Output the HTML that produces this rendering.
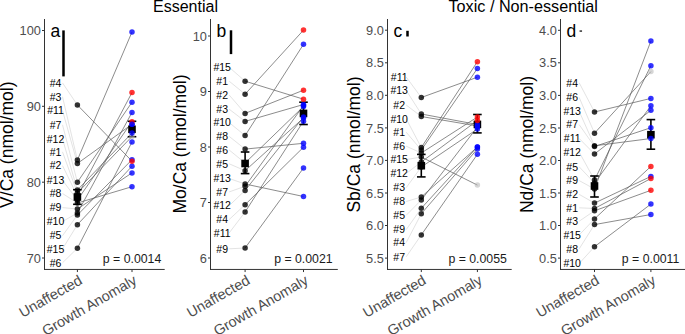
<!DOCTYPE html><html><head><meta charset="utf-8"><style>html,body{margin:0;padding:0;background:#fff;overflow:hidden}svg{display:block}text{font-family:"Liberation Sans",sans-serif}</style></head><body>
<svg width="685" height="334" viewBox="0 0 685 334">
<rect width="685" height="334" fill="#fff"/>
<text x="185.5" y="12" font-size="16" text-anchor="middle" fill="#000">Essential</text>
<text x="523.2" y="12" font-size="16.2" text-anchor="middle" fill="#000">Toxic / Non-essential</text>
<text transform="translate(13.0,144.7) rotate(-90)" font-size="17.5" text-anchor="middle" fill="#000">V/Ca (nmol/mol)</text>
<text x="40.9" y="35.1" font-size="12.8" text-anchor="end" fill="#4d4d4d">100</text>
<line x1="42.0" y1="30.5" x2="44.5" y2="30.5" stroke="#333" stroke-width="1"/>
<text x="40.9" y="110.9" font-size="12.8" text-anchor="end" fill="#4d4d4d">90</text>
<line x1="42.0" y1="106.3" x2="44.5" y2="106.3" stroke="#333" stroke-width="1"/>
<text x="40.9" y="186.8" font-size="12.8" text-anchor="end" fill="#4d4d4d">80</text>
<line x1="42.0" y1="182.2" x2="44.5" y2="182.2" stroke="#333" stroke-width="1"/>
<text x="40.9" y="262.6" font-size="12.8" text-anchor="end" fill="#4d4d4d">70</text>
<line x1="42.0" y1="258.0" x2="44.5" y2="258.0" stroke="#333" stroke-width="1"/>
<line x1="62.5" y1="82.9" x2="77.4" y2="105" stroke="#d0d0d0" stroke-width="0.6"/>
<line x1="62.5" y1="96.8" x2="77.4" y2="160" stroke="#d0d0d0" stroke-width="0.6"/>
<line x1="62.5" y1="110.6" x2="77.4" y2="163.5" stroke="#d0d0d0" stroke-width="0.6"/>
<line x1="62.5" y1="124.8" x2="77.4" y2="182.2" stroke="#d0d0d0" stroke-width="0.6"/>
<line x1="62.5" y1="138.8" x2="77.4" y2="190" stroke="#d0d0d0" stroke-width="0.6"/>
<line x1="62.5" y1="151.9" x2="77.4" y2="193" stroke="#d0d0d0" stroke-width="0.6"/>
<line x1="62.5" y1="165.6" x2="77.4" y2="196" stroke="#d0d0d0" stroke-width="0.6"/>
<line x1="62.5" y1="180.3" x2="77.4" y2="200" stroke="#d0d0d0" stroke-width="0.6"/>
<line x1="62.5" y1="193.5" x2="77.4" y2="203" stroke="#d0d0d0" stroke-width="0.6"/>
<line x1="62.5" y1="207.6" x2="77.4" y2="209" stroke="#d0d0d0" stroke-width="0.6"/>
<line x1="62.5" y1="221.5" x2="77.4" y2="213" stroke="#d0d0d0" stroke-width="0.6"/>
<line x1="62.5" y1="235.7" x2="77.4" y2="215" stroke="#d0d0d0" stroke-width="0.6"/>
<line x1="62.5" y1="248.9" x2="77.4" y2="224.7" stroke="#d0d0d0" stroke-width="0.6"/>
<line x1="62.5" y1="262.8" x2="77.4" y2="248.2" stroke="#d0d0d0" stroke-width="0.6"/>
<line x1="77.4" y1="105" x2="132.0" y2="161.2" stroke="#5a5a5a" stroke-width="0.7"/>
<line x1="77.4" y1="160" x2="132.0" y2="32" stroke="#5a5a5a" stroke-width="0.7"/>
<line x1="77.4" y1="163.5" x2="132.0" y2="124.3" stroke="#5a5a5a" stroke-width="0.7"/>
<line x1="77.4" y1="182.2" x2="132.0" y2="102.2" stroke="#5a5a5a" stroke-width="0.7"/>
<line x1="77.4" y1="190" x2="132.0" y2="133" stroke="#5a5a5a" stroke-width="0.7"/>
<line x1="77.4" y1="193" x2="132.0" y2="136.5" stroke="#5a5a5a" stroke-width="0.7"/>
<line x1="77.4" y1="196" x2="132.0" y2="92.5" stroke="#5a5a5a" stroke-width="0.7"/>
<line x1="77.4" y1="200" x2="132.0" y2="121.7" stroke="#5a5a5a" stroke-width="0.7"/>
<line x1="77.4" y1="203" x2="132.0" y2="186.7" stroke="#5a5a5a" stroke-width="0.7"/>
<line x1="77.4" y1="209" x2="132.0" y2="172.9" stroke="#5a5a5a" stroke-width="0.7"/>
<line x1="77.4" y1="213" x2="132.0" y2="112.4" stroke="#5a5a5a" stroke-width="0.7"/>
<line x1="77.4" y1="215" x2="132.0" y2="159.7" stroke="#5a5a5a" stroke-width="0.7"/>
<line x1="77.4" y1="224.7" x2="132.0" y2="166.2" stroke="#5a5a5a" stroke-width="0.7"/>
<line x1="77.4" y1="248.2" x2="132.0" y2="142" stroke="#5a5a5a" stroke-width="0.7"/>
<text x="55.5" y="86.6" font-size="10.5" text-anchor="middle" fill="#000">#4</text>
<text x="55.5" y="100.5" font-size="10.5" text-anchor="middle" fill="#000">#3</text>
<text x="55.5" y="114.3" font-size="10.5" text-anchor="middle" fill="#000">#11</text>
<text x="55.5" y="128.5" font-size="10.5" text-anchor="middle" fill="#000">#7</text>
<text x="55.5" y="142.5" font-size="10.5" text-anchor="middle" fill="#000">#12</text>
<text x="55.5" y="155.6" font-size="10.5" text-anchor="middle" fill="#000">#1</text>
<text x="55.5" y="169.3" font-size="10.5" text-anchor="middle" fill="#000">#2</text>
<text x="55.5" y="184.0" font-size="10.5" text-anchor="middle" fill="#000">#13</text>
<text x="55.5" y="197.2" font-size="10.5" text-anchor="middle" fill="#000">#8</text>
<text x="55.5" y="211.3" font-size="10.5" text-anchor="middle" fill="#000">#9</text>
<text x="55.5" y="225.2" font-size="10.5" text-anchor="middle" fill="#000">#10</text>
<text x="55.5" y="239.4" font-size="10.5" text-anchor="middle" fill="#000">#5</text>
<text x="55.5" y="252.6" font-size="10.5" text-anchor="middle" fill="#000">#15</text>
<text x="55.5" y="266.5" font-size="10.5" text-anchor="middle" fill="#000">#6</text>
<line x1="77.4" y1="189.7" x2="77.4" y2="204.3" stroke="#000" stroke-width="1.6"/>
<line x1="73.10000000000001" y1="189.7" x2="81.7" y2="189.7" stroke="#000" stroke-width="1.6"/>
<line x1="73.10000000000001" y1="204.3" x2="81.7" y2="204.3" stroke="#000" stroke-width="1.6"/>
<rect x="73.60000000000001" y="193.2" width="7.6" height="7.6" fill="#000"/>
<line x1="132.0" y1="121.3" x2="132.0" y2="136.7" stroke="#000" stroke-width="1.6"/>
<line x1="127.7" y1="121.3" x2="136.3" y2="121.3" stroke="#000" stroke-width="1.6"/>
<line x1="127.7" y1="136.7" x2="136.3" y2="136.7" stroke="#000" stroke-width="1.6"/>
<rect x="128.2" y="125.50000000000001" width="7.6" height="7.6" fill="#000"/>
<circle cx="77.4" cy="105" r="2.75" fill="#000" fill-opacity="0.8"/>
<circle cx="77.4" cy="160" r="2.75" fill="#000" fill-opacity="0.8"/>
<circle cx="77.4" cy="163.5" r="2.75" fill="#000" fill-opacity="0.8"/>
<circle cx="77.4" cy="182.2" r="2.75" fill="#000" fill-opacity="0.8"/>
<circle cx="77.4" cy="190" r="2.75" fill="#000" fill-opacity="0.8"/>
<circle cx="77.4" cy="193" r="2.75" fill="#000" fill-opacity="0.8"/>
<circle cx="77.4" cy="196" r="2.75" fill="#000" fill-opacity="0.8"/>
<circle cx="77.4" cy="200" r="2.75" fill="#000" fill-opacity="0.8"/>
<circle cx="77.4" cy="203" r="2.75" fill="#000" fill-opacity="0.8"/>
<circle cx="77.4" cy="209" r="2.75" fill="#000" fill-opacity="0.8"/>
<circle cx="77.4" cy="213" r="2.75" fill="#000" fill-opacity="0.8"/>
<circle cx="77.4" cy="215" r="2.75" fill="#000" fill-opacity="0.8"/>
<circle cx="77.4" cy="224.7" r="2.75" fill="#000" fill-opacity="0.8"/>
<circle cx="77.4" cy="248.2" r="2.75" fill="#000" fill-opacity="0.8"/>
<circle cx="132.0" cy="136.5" r="2.75" fill="#b4b4b4" fill-opacity="0.55"/>
<circle cx="132.0" cy="32" r="2.75" fill="#0000ff" fill-opacity="0.8"/>
<circle cx="132.0" cy="124.3" r="2.75" fill="#0000ff" fill-opacity="0.8"/>
<circle cx="132.0" cy="102.2" r="2.75" fill="#0000ff" fill-opacity="0.8"/>
<circle cx="132.0" cy="133" r="2.75" fill="#0000ff" fill-opacity="0.8"/>
<circle cx="132.0" cy="186.7" r="2.75" fill="#0000ff" fill-opacity="0.8"/>
<circle cx="132.0" cy="172.9" r="2.75" fill="#0000ff" fill-opacity="0.8"/>
<circle cx="132.0" cy="112.4" r="2.75" fill="#0000ff" fill-opacity="0.8"/>
<circle cx="132.0" cy="159.7" r="2.75" fill="#0000ff" fill-opacity="0.8"/>
<circle cx="132.0" cy="166.2" r="2.75" fill="#0000ff" fill-opacity="0.8"/>
<circle cx="132.0" cy="142" r="2.75" fill="#0000ff" fill-opacity="0.8"/>
<circle cx="132.0" cy="161.2" r="2.75" fill="#ff0000" fill-opacity="0.8"/>
<circle cx="132.0" cy="92.5" r="2.75" fill="#ff0000" fill-opacity="0.8"/>
<circle cx="132.0" cy="121.7" r="2.75" fill="#ff0000" fill-opacity="0.8"/>
<circle cx="132.0" cy="124.3" r="2.75" fill="#0000ff" fill-opacity="0.8"/>
<rect x="62.25" y="30.4" width="2.5" height="46.00000000000001" fill="#000"/>
<text x="50.5" y="37" font-size="17.5" fill="#000">a</text>
<line x1="44.5" y1="19.0" x2="44.5" y2="269.95" stroke="#333" stroke-width="1"/>
<line x1="44.0" y1="269.45" x2="164.7" y2="269.45" stroke="#333" stroke-width="1"/>
<line x1="77.4" y1="269.45" x2="77.4" y2="272.05" stroke="#333" stroke-width="1"/>
<line x1="132.0" y1="269.45" x2="132.0" y2="272.05" stroke="#333" stroke-width="1"/>
<text x="161.3" y="263.2" font-size="12.3" text-anchor="end" fill="#1a1a1a">p = 0.0014</text>
<text transform="translate(83.2,283.1) rotate(-30)" font-size="14.5" text-anchor="end" fill="#4d4d4d">Unaffected</text>
<text transform="translate(137.8,283.1) rotate(-30)" font-size="14.5" text-anchor="end" fill="#4d4d4d">Growth Anomaly</text>
<text transform="translate(186.2,144.0) rotate(-90)" font-size="17.5" text-anchor="middle" fill="#000">Mo/Ca (nmol/mol)</text>
<text x="206.9" y="40.6" font-size="12.8" text-anchor="end" fill="#4d4d4d">10</text>
<line x1="208.0" y1="36.0" x2="210.5" y2="36.0" stroke="#333" stroke-width="1"/>
<text x="206.9" y="96.1" font-size="12.8" text-anchor="end" fill="#4d4d4d">9</text>
<line x1="208.0" y1="91.5" x2="210.5" y2="91.5" stroke="#333" stroke-width="1"/>
<text x="206.9" y="151.6" font-size="12.8" text-anchor="end" fill="#4d4d4d">8</text>
<line x1="208.0" y1="147.0" x2="210.5" y2="147.0" stroke="#333" stroke-width="1"/>
<text x="206.9" y="207.1" font-size="12.8" text-anchor="end" fill="#4d4d4d">7</text>
<line x1="208.0" y1="202.5" x2="210.5" y2="202.5" stroke="#333" stroke-width="1"/>
<text x="206.9" y="262.6" font-size="12.8" text-anchor="end" fill="#4d4d4d">6</text>
<line x1="208.0" y1="258.0" x2="210.5" y2="258.0" stroke="#333" stroke-width="1"/>
<line x1="229.2" y1="67.3" x2="245.1" y2="81.2" stroke="#d0d0d0" stroke-width="0.6"/>
<line x1="229.2" y1="81.2" x2="245.1" y2="94.2" stroke="#d0d0d0" stroke-width="0.6"/>
<line x1="229.2" y1="95.0" x2="245.1" y2="113.4" stroke="#d0d0d0" stroke-width="0.6"/>
<line x1="229.2" y1="109.2" x2="245.1" y2="121.4" stroke="#d0d0d0" stroke-width="0.6"/>
<line x1="229.2" y1="122.6" x2="245.1" y2="135.6" stroke="#d0d0d0" stroke-width="0.6"/>
<line x1="229.2" y1="136.4" x2="245.1" y2="149.1" stroke="#d0d0d0" stroke-width="0.6"/>
<line x1="229.2" y1="150.0" x2="245.1" y2="163" stroke="#d0d0d0" stroke-width="0.6"/>
<line x1="229.2" y1="163.8" x2="245.1" y2="170.7" stroke="#d0d0d0" stroke-width="0.6"/>
<line x1="229.2" y1="178.5" x2="245.1" y2="184" stroke="#d0d0d0" stroke-width="0.6"/>
<line x1="229.2" y1="191.9" x2="245.1" y2="186.3" stroke="#d0d0d0" stroke-width="0.6"/>
<line x1="229.2" y1="205.7" x2="245.1" y2="190.4" stroke="#d0d0d0" stroke-width="0.6"/>
<line x1="229.2" y1="219.5" x2="245.1" y2="204.7" stroke="#d0d0d0" stroke-width="0.6"/>
<line x1="229.2" y1="232.9" x2="245.1" y2="212" stroke="#d0d0d0" stroke-width="0.6"/>
<line x1="229.2" y1="248.8" x2="245.1" y2="248" stroke="#d0d0d0" stroke-width="0.6"/>
<line x1="245.1" y1="81.2" x2="303.5" y2="99.2" stroke="#5a5a5a" stroke-width="0.7"/>
<line x1="245.1" y1="94.2" x2="303.5" y2="30.1" stroke="#5a5a5a" stroke-width="0.7"/>
<line x1="245.1" y1="113.4" x2="303.5" y2="90.2" stroke="#5a5a5a" stroke-width="0.7"/>
<line x1="245.1" y1="121.4" x2="303.5" y2="104.5" stroke="#5a5a5a" stroke-width="0.7"/>
<line x1="245.1" y1="135.6" x2="303.5" y2="44.3" stroke="#5a5a5a" stroke-width="0.7"/>
<line x1="245.1" y1="149.1" x2="303.5" y2="143.3" stroke="#5a5a5a" stroke-width="0.7"/>
<line x1="245.1" y1="163" x2="303.5" y2="106.5" stroke="#5a5a5a" stroke-width="0.7"/>
<line x1="245.1" y1="170.7" x2="303.5" y2="118" stroke="#5a5a5a" stroke-width="0.7"/>
<line x1="245.1" y1="184" x2="303.5" y2="196.5" stroke="#5a5a5a" stroke-width="0.7"/>
<line x1="245.1" y1="186.3" x2="303.5" y2="105.5" stroke="#5a5a5a" stroke-width="0.7"/>
<line x1="245.1" y1="190.4" x2="303.5" y2="117" stroke="#5a5a5a" stroke-width="0.7"/>
<line x1="245.1" y1="204.7" x2="303.5" y2="147.2" stroke="#5a5a5a" stroke-width="0.7"/>
<line x1="245.1" y1="212" x2="303.5" y2="121.2" stroke="#5a5a5a" stroke-width="0.7"/>
<line x1="245.1" y1="248" x2="303.5" y2="168" stroke="#5a5a5a" stroke-width="0.7"/>
<text x="222.2" y="71.0" font-size="10.5" text-anchor="middle" fill="#000">#15</text>
<text x="222.2" y="84.9" font-size="10.5" text-anchor="middle" fill="#000">#1</text>
<text x="222.2" y="98.7" font-size="10.5" text-anchor="middle" fill="#000">#2</text>
<text x="222.2" y="112.9" font-size="10.5" text-anchor="middle" fill="#000">#3</text>
<text x="222.2" y="126.3" font-size="10.5" text-anchor="middle" fill="#000">#10</text>
<text x="222.2" y="140.1" font-size="10.5" text-anchor="middle" fill="#000">#8</text>
<text x="222.2" y="153.7" font-size="10.5" text-anchor="middle" fill="#000">#6</text>
<text x="222.2" y="167.5" font-size="10.5" text-anchor="middle" fill="#000">#5</text>
<text x="222.2" y="182.2" font-size="10.5" text-anchor="middle" fill="#000">#13</text>
<text x="222.2" y="195.6" font-size="10.5" text-anchor="middle" fill="#000">#7</text>
<text x="222.2" y="209.4" font-size="10.5" text-anchor="middle" fill="#000">#12</text>
<text x="222.2" y="223.2" font-size="10.5" text-anchor="middle" fill="#000">#4</text>
<text x="222.2" y="236.6" font-size="10.5" text-anchor="middle" fill="#000">#11</text>
<text x="222.2" y="252.5" font-size="10.5" text-anchor="middle" fill="#000">#9</text>
<line x1="245.1" y1="152" x2="245.1" y2="173.6" stroke="#000" stroke-width="1.6"/>
<line x1="240.79999999999998" y1="152" x2="249.4" y2="152" stroke="#000" stroke-width="1.6"/>
<line x1="240.79999999999998" y1="173.6" x2="249.4" y2="173.6" stroke="#000" stroke-width="1.6"/>
<rect x="241.29999999999998" y="159.7" width="7.6" height="7.6" fill="#000"/>
<line x1="303.5" y1="102.2" x2="303.5" y2="124.5" stroke="#000" stroke-width="1.6"/>
<line x1="299.2" y1="102.2" x2="307.8" y2="102.2" stroke="#000" stroke-width="1.6"/>
<line x1="299.2" y1="124.5" x2="307.8" y2="124.5" stroke="#000" stroke-width="1.6"/>
<rect x="299.7" y="109.60000000000001" width="7.6" height="7.6" fill="#000"/>
<circle cx="245.1" cy="81.2" r="2.75" fill="#000" fill-opacity="0.8"/>
<circle cx="245.1" cy="94.2" r="2.75" fill="#000" fill-opacity="0.8"/>
<circle cx="245.1" cy="113.4" r="2.75" fill="#000" fill-opacity="0.8"/>
<circle cx="245.1" cy="121.4" r="2.75" fill="#000" fill-opacity="0.8"/>
<circle cx="245.1" cy="135.6" r="2.75" fill="#000" fill-opacity="0.8"/>
<circle cx="245.1" cy="149.1" r="2.75" fill="#000" fill-opacity="0.8"/>
<circle cx="245.1" cy="163" r="2.75" fill="#000" fill-opacity="0.8"/>
<circle cx="245.1" cy="170.7" r="2.75" fill="#000" fill-opacity="0.8"/>
<circle cx="245.1" cy="184" r="2.75" fill="#000" fill-opacity="0.8"/>
<circle cx="245.1" cy="186.3" r="2.75" fill="#000" fill-opacity="0.8"/>
<circle cx="245.1" cy="190.4" r="2.75" fill="#000" fill-opacity="0.8"/>
<circle cx="245.1" cy="204.7" r="2.75" fill="#000" fill-opacity="0.8"/>
<circle cx="245.1" cy="212" r="2.75" fill="#000" fill-opacity="0.8"/>
<circle cx="245.1" cy="248" r="2.75" fill="#000" fill-opacity="0.8"/>
<circle cx="303.5" cy="104.5" r="2.75" fill="#0000ff" fill-opacity="0.8"/>
<circle cx="303.5" cy="44.3" r="2.75" fill="#0000ff" fill-opacity="0.8"/>
<circle cx="303.5" cy="143.3" r="2.75" fill="#0000ff" fill-opacity="0.8"/>
<circle cx="303.5" cy="106.5" r="2.75" fill="#0000ff" fill-opacity="0.8"/>
<circle cx="303.5" cy="118" r="2.75" fill="#0000ff" fill-opacity="0.8"/>
<circle cx="303.5" cy="196.5" r="2.75" fill="#0000ff" fill-opacity="0.8"/>
<circle cx="303.5" cy="105.5" r="2.75" fill="#0000ff" fill-opacity="0.8"/>
<circle cx="303.5" cy="117" r="2.75" fill="#0000ff" fill-opacity="0.8"/>
<circle cx="303.5" cy="147.2" r="2.75" fill="#0000ff" fill-opacity="0.8"/>
<circle cx="303.5" cy="121.2" r="2.75" fill="#0000ff" fill-opacity="0.8"/>
<circle cx="303.5" cy="168" r="2.75" fill="#0000ff" fill-opacity="0.8"/>
<circle cx="303.5" cy="99.2" r="2.75" fill="#ff0000" fill-opacity="0.8"/>
<circle cx="303.5" cy="30.1" r="2.75" fill="#ff0000" fill-opacity="0.8"/>
<circle cx="303.5" cy="90.2" r="2.75" fill="#ff0000" fill-opacity="0.8"/>
<rect x="229.75" y="30.3" width="2.5" height="23.8" fill="#000"/>
<text x="216.5" y="37" font-size="17.5" fill="#000">b</text>
<line x1="210.5" y1="19.0" x2="210.5" y2="269.95" stroke="#333" stroke-width="1"/>
<line x1="210.0" y1="269.45" x2="337.8" y2="269.45" stroke="#333" stroke-width="1"/>
<line x1="245.1" y1="269.45" x2="245.1" y2="272.05" stroke="#333" stroke-width="1"/>
<line x1="303.5" y1="269.45" x2="303.5" y2="272.05" stroke="#333" stroke-width="1"/>
<text x="332.6" y="263.2" font-size="12.3" text-anchor="end" fill="#1a1a1a">p = 0.0021</text>
<text transform="translate(250.9,283.1) rotate(-30)" font-size="14.5" text-anchor="end" fill="#4d4d4d">Unaffected</text>
<text transform="translate(309.3,283.1) rotate(-30)" font-size="14.5" text-anchor="end" fill="#4d4d4d">Growth Anomaly</text>
<text transform="translate(359.6,144.5) rotate(-90)" font-size="17.5" text-anchor="middle" fill="#000">Sb/Ca (nmol/mol)</text>
<text x="383.9" y="34.8" font-size="12.8" text-anchor="end" fill="#4d4d4d">9.0</text>
<line x1="385.0" y1="30.2" x2="387.5" y2="30.2" stroke="#333" stroke-width="1"/>
<text x="383.9" y="67.4" font-size="12.8" text-anchor="end" fill="#4d4d4d">8.5</text>
<line x1="385.0" y1="62.8" x2="387.5" y2="62.8" stroke="#333" stroke-width="1"/>
<text x="383.9" y="99.9" font-size="12.8" text-anchor="end" fill="#4d4d4d">8.0</text>
<line x1="385.0" y1="95.3" x2="387.5" y2="95.3" stroke="#333" stroke-width="1"/>
<text x="383.9" y="132.5" font-size="12.8" text-anchor="end" fill="#4d4d4d">7.5</text>
<line x1="385.0" y1="127.9" x2="387.5" y2="127.9" stroke="#333" stroke-width="1"/>
<text x="383.9" y="165.0" font-size="12.8" text-anchor="end" fill="#4d4d4d">7.0</text>
<line x1="385.0" y1="160.4" x2="387.5" y2="160.4" stroke="#333" stroke-width="1"/>
<text x="383.9" y="197.6" font-size="12.8" text-anchor="end" fill="#4d4d4d">6.5</text>
<line x1="385.0" y1="193.0" x2="387.5" y2="193.0" stroke="#333" stroke-width="1"/>
<text x="383.9" y="230.1" font-size="12.8" text-anchor="end" fill="#4d4d4d">6.0</text>
<line x1="385.0" y1="225.5" x2="387.5" y2="225.5" stroke="#333" stroke-width="1"/>
<text x="383.9" y="262.7" font-size="12.8" text-anchor="end" fill="#4d4d4d">5.5</text>
<line x1="385.0" y1="258.1" x2="387.5" y2="258.1" stroke="#333" stroke-width="1"/>
<line x1="406.2" y1="77.0" x2="421.3" y2="97.5" stroke="#d0d0d0" stroke-width="0.6"/>
<line x1="406.2" y1="90.4" x2="421.3" y2="114" stroke="#d0d0d0" stroke-width="0.6"/>
<line x1="406.2" y1="105.0" x2="421.3" y2="116.5" stroke="#d0d0d0" stroke-width="0.6"/>
<line x1="406.2" y1="118.8" x2="421.3" y2="147.5" stroke="#d0d0d0" stroke-width="0.6"/>
<line x1="406.2" y1="132.2" x2="421.3" y2="150" stroke="#d0d0d0" stroke-width="0.6"/>
<line x1="406.2" y1="146.2" x2="421.3" y2="153" stroke="#d0d0d0" stroke-width="0.6"/>
<line x1="406.2" y1="159.6" x2="421.3" y2="157" stroke="#d0d0d0" stroke-width="0.6"/>
<line x1="406.2" y1="173.5" x2="421.3" y2="162" stroke="#d0d0d0" stroke-width="0.6"/>
<line x1="406.2" y1="187.7" x2="421.3" y2="167" stroke="#d0d0d0" stroke-width="0.6"/>
<line x1="406.2" y1="201.5" x2="421.3" y2="197" stroke="#d0d0d0" stroke-width="0.6"/>
<line x1="406.2" y1="215.3" x2="421.3" y2="200" stroke="#d0d0d0" stroke-width="0.6"/>
<line x1="406.2" y1="229.6" x2="421.3" y2="208.3" stroke="#d0d0d0" stroke-width="0.6"/>
<line x1="406.2" y1="242.6" x2="421.3" y2="213.7" stroke="#d0d0d0" stroke-width="0.6"/>
<line x1="406.2" y1="256.8" x2="421.3" y2="234.9" stroke="#d0d0d0" stroke-width="0.6"/>
<line x1="421.3" y1="97.5" x2="477.4" y2="77.2" stroke="#5a5a5a" stroke-width="0.7"/>
<line x1="421.3" y1="114" x2="477.4" y2="124.5" stroke="#5a5a5a" stroke-width="0.7"/>
<line x1="421.3" y1="116.5" x2="477.4" y2="126" stroke="#5a5a5a" stroke-width="0.7"/>
<line x1="421.3" y1="147.5" x2="477.4" y2="61.7" stroke="#5a5a5a" stroke-width="0.7"/>
<line x1="421.3" y1="150" x2="477.4" y2="68.5" stroke="#5a5a5a" stroke-width="0.7"/>
<line x1="421.3" y1="153" x2="477.4" y2="117" stroke="#5a5a5a" stroke-width="0.7"/>
<line x1="421.3" y1="157" x2="477.4" y2="185.1" stroke="#5a5a5a" stroke-width="0.7"/>
<line x1="421.3" y1="162" x2="477.4" y2="120.5" stroke="#5a5a5a" stroke-width="0.7"/>
<line x1="421.3" y1="167" x2="477.4" y2="129" stroke="#5a5a5a" stroke-width="0.7"/>
<line x1="421.3" y1="197" x2="477.4" y2="147" stroke="#5a5a5a" stroke-width="0.7"/>
<line x1="421.3" y1="200" x2="477.4" y2="127" stroke="#5a5a5a" stroke-width="0.7"/>
<line x1="421.3" y1="208.3" x2="477.4" y2="146.9" stroke="#5a5a5a" stroke-width="0.7"/>
<line x1="421.3" y1="213.7" x2="477.4" y2="149" stroke="#5a5a5a" stroke-width="0.7"/>
<line x1="421.3" y1="234.9" x2="477.4" y2="154.3" stroke="#5a5a5a" stroke-width="0.7"/>
<text x="399.2" y="80.7" font-size="10.5" text-anchor="middle" fill="#000">#11</text>
<text x="399.2" y="94.1" font-size="10.5" text-anchor="middle" fill="#000">#13</text>
<text x="399.2" y="108.7" font-size="10.5" text-anchor="middle" fill="#000">#2</text>
<text x="399.2" y="122.5" font-size="10.5" text-anchor="middle" fill="#000">#10</text>
<text x="399.2" y="135.9" font-size="10.5" text-anchor="middle" fill="#000">#1</text>
<text x="399.2" y="149.9" font-size="10.5" text-anchor="middle" fill="#000">#6</text>
<text x="399.2" y="163.3" font-size="10.5" text-anchor="middle" fill="#000">#15</text>
<text x="399.2" y="177.2" font-size="10.5" text-anchor="middle" fill="#000">#12</text>
<text x="399.2" y="191.4" font-size="10.5" text-anchor="middle" fill="#000">#3</text>
<text x="399.2" y="205.2" font-size="10.5" text-anchor="middle" fill="#000">#8</text>
<text x="399.2" y="219.0" font-size="10.5" text-anchor="middle" fill="#000">#5</text>
<text x="399.2" y="233.3" font-size="10.5" text-anchor="middle" fill="#000">#9</text>
<text x="399.2" y="246.3" font-size="10.5" text-anchor="middle" fill="#000">#4</text>
<text x="399.2" y="260.5" font-size="10.5" text-anchor="middle" fill="#000">#7</text>
<line x1="421.3" y1="154.4" x2="421.3" y2="176.9" stroke="#000" stroke-width="1.6"/>
<line x1="417.0" y1="154.4" x2="425.6" y2="154.4" stroke="#000" stroke-width="1.6"/>
<line x1="417.0" y1="176.9" x2="425.6" y2="176.9" stroke="#000" stroke-width="1.6"/>
<rect x="417.5" y="161.89999999999998" width="7.6" height="7.6" fill="#000"/>
<line x1="477.4" y1="114.5" x2="477.4" y2="132.9" stroke="#000" stroke-width="1.6"/>
<line x1="473.09999999999997" y1="114.5" x2="481.7" y2="114.5" stroke="#000" stroke-width="1.6"/>
<line x1="473.09999999999997" y1="132.9" x2="481.7" y2="132.9" stroke="#000" stroke-width="1.6"/>
<rect x="473.59999999999997" y="120.60000000000001" width="7.6" height="7.6" fill="#000"/>
<circle cx="421.3" cy="97.5" r="2.75" fill="#000" fill-opacity="0.8"/>
<circle cx="421.3" cy="114" r="2.75" fill="#000" fill-opacity="0.8"/>
<circle cx="421.3" cy="116.5" r="2.75" fill="#000" fill-opacity="0.8"/>
<circle cx="421.3" cy="147.5" r="2.75" fill="#000" fill-opacity="0.8"/>
<circle cx="421.3" cy="150" r="2.75" fill="#000" fill-opacity="0.8"/>
<circle cx="421.3" cy="153" r="2.75" fill="#000" fill-opacity="0.8"/>
<circle cx="421.3" cy="157" r="2.75" fill="#000" fill-opacity="0.8"/>
<circle cx="421.3" cy="162" r="2.75" fill="#000" fill-opacity="0.8"/>
<circle cx="421.3" cy="167" r="2.75" fill="#000" fill-opacity="0.8"/>
<circle cx="421.3" cy="197" r="2.75" fill="#000" fill-opacity="0.8"/>
<circle cx="421.3" cy="200" r="2.75" fill="#000" fill-opacity="0.8"/>
<circle cx="421.3" cy="208.3" r="2.75" fill="#000" fill-opacity="0.8"/>
<circle cx="421.3" cy="213.7" r="2.75" fill="#000" fill-opacity="0.8"/>
<circle cx="421.3" cy="234.9" r="2.75" fill="#000" fill-opacity="0.8"/>
<circle cx="477.4" cy="185.1" r="2.75" fill="#b4b4b4" fill-opacity="0.55"/>
<circle cx="477.4" cy="77.2" r="2.75" fill="#0000ff" fill-opacity="0.8"/>
<circle cx="477.4" cy="124.5" r="2.75" fill="#0000ff" fill-opacity="0.8"/>
<circle cx="477.4" cy="126" r="2.75" fill="#0000ff" fill-opacity="0.8"/>
<circle cx="477.4" cy="68.5" r="2.75" fill="#0000ff" fill-opacity="0.8"/>
<circle cx="477.4" cy="129" r="2.75" fill="#0000ff" fill-opacity="0.8"/>
<circle cx="477.4" cy="147" r="2.75" fill="#0000ff" fill-opacity="0.8"/>
<circle cx="477.4" cy="127" r="2.75" fill="#0000ff" fill-opacity="0.8"/>
<circle cx="477.4" cy="146.9" r="2.75" fill="#0000ff" fill-opacity="0.8"/>
<circle cx="477.4" cy="149" r="2.75" fill="#0000ff" fill-opacity="0.8"/>
<circle cx="477.4" cy="154.3" r="2.75" fill="#0000ff" fill-opacity="0.8"/>
<circle cx="477.4" cy="61.7" r="2.75" fill="#ff0000" fill-opacity="0.8"/>
<circle cx="477.4" cy="117" r="2.75" fill="#ff0000" fill-opacity="0.8"/>
<circle cx="477.4" cy="120.5" r="2.75" fill="#ff0000" fill-opacity="0.8"/>
<rect x="406.25" y="30.8" width="2.5" height="5.699999999999999" fill="#000"/>
<text x="393.5" y="37" font-size="17.5" fill="#000">c</text>
<line x1="387.5" y1="19.0" x2="387.5" y2="269.95" stroke="#333" stroke-width="1"/>
<line x1="387.0" y1="269.45" x2="511.7" y2="269.45" stroke="#333" stroke-width="1"/>
<line x1="421.3" y1="269.45" x2="421.3" y2="272.05" stroke="#333" stroke-width="1"/>
<line x1="477.4" y1="269.45" x2="477.4" y2="272.05" stroke="#333" stroke-width="1"/>
<text x="506.9" y="263.2" font-size="12.3" text-anchor="end" fill="#1a1a1a">p = 0.0055</text>
<text transform="translate(427.1,283.1) rotate(-30)" font-size="14.5" text-anchor="end" fill="#4d4d4d">Unaffected</text>
<text transform="translate(483.2,283.1) rotate(-30)" font-size="14.5" text-anchor="end" fill="#4d4d4d">Growth Anomaly</text>
<text transform="translate(533.0,144.5) rotate(-90)" font-size="17.5" text-anchor="middle" fill="#000">Nd/Ca (nmol/mol)</text>
<text x="556.9" y="34.9" font-size="12.8" text-anchor="end" fill="#4d4d4d">4.0</text>
<line x1="558.0" y1="30.3" x2="560.5" y2="30.3" stroke="#333" stroke-width="1"/>
<text x="556.9" y="67.4" font-size="12.8" text-anchor="end" fill="#4d4d4d">3.5</text>
<line x1="558.0" y1="62.8" x2="560.5" y2="62.8" stroke="#333" stroke-width="1"/>
<text x="556.9" y="100.0" font-size="12.8" text-anchor="end" fill="#4d4d4d">3.0</text>
<line x1="558.0" y1="95.4" x2="560.5" y2="95.4" stroke="#333" stroke-width="1"/>
<text x="556.9" y="132.6" font-size="12.8" text-anchor="end" fill="#4d4d4d">2.5</text>
<line x1="558.0" y1="128.0" x2="560.5" y2="128.0" stroke="#333" stroke-width="1"/>
<text x="556.9" y="165.1" font-size="12.8" text-anchor="end" fill="#4d4d4d">2.0</text>
<line x1="558.0" y1="160.5" x2="560.5" y2="160.5" stroke="#333" stroke-width="1"/>
<text x="556.9" y="197.6" font-size="12.8" text-anchor="end" fill="#4d4d4d">1.5</text>
<line x1="558.0" y1="193.0" x2="560.5" y2="193.0" stroke="#333" stroke-width="1"/>
<text x="556.9" y="230.1" font-size="12.8" text-anchor="end" fill="#4d4d4d">1.0</text>
<line x1="558.0" y1="225.5" x2="560.5" y2="225.5" stroke="#333" stroke-width="1"/>
<text x="556.9" y="262.7" font-size="12.8" text-anchor="end" fill="#4d4d4d">0.5</text>
<line x1="558.0" y1="258.1" x2="560.5" y2="258.1" stroke="#333" stroke-width="1"/>
<line x1="579.2" y1="82.8" x2="594.5" y2="112" stroke="#d0d0d0" stroke-width="0.6"/>
<line x1="579.2" y1="97.5" x2="594.5" y2="133.2" stroke="#d0d0d0" stroke-width="0.6"/>
<line x1="579.2" y1="111.3" x2="594.5" y2="145.8" stroke="#d0d0d0" stroke-width="0.6"/>
<line x1="579.2" y1="124.7" x2="594.5" y2="146.5" stroke="#d0d0d0" stroke-width="0.6"/>
<line x1="579.2" y1="138.5" x2="594.5" y2="154" stroke="#d0d0d0" stroke-width="0.6"/>
<line x1="579.2" y1="152.1" x2="594.5" y2="180" stroke="#d0d0d0" stroke-width="0.6"/>
<line x1="579.2" y1="166.8" x2="594.5" y2="183" stroke="#d0d0d0" stroke-width="0.6"/>
<line x1="579.2" y1="180.6" x2="594.5" y2="189" stroke="#d0d0d0" stroke-width="0.6"/>
<line x1="579.2" y1="194.4" x2="594.5" y2="203.1" stroke="#d0d0d0" stroke-width="0.6"/>
<line x1="579.2" y1="207.8" x2="594.5" y2="208.5" stroke="#d0d0d0" stroke-width="0.6"/>
<line x1="579.2" y1="221.2" x2="594.5" y2="210.8" stroke="#d0d0d0" stroke-width="0.6"/>
<line x1="579.2" y1="235.0" x2="594.5" y2="218.9" stroke="#d0d0d0" stroke-width="0.6"/>
<line x1="579.2" y1="248.8" x2="594.5" y2="224.6" stroke="#d0d0d0" stroke-width="0.6"/>
<line x1="579.2" y1="263.5" x2="594.5" y2="246.7" stroke="#d0d0d0" stroke-width="0.6"/>
<line x1="594.5" y1="112" x2="650.9" y2="98.4" stroke="#5a5a5a" stroke-width="0.7"/>
<line x1="594.5" y1="133.2" x2="650.9" y2="71.6" stroke="#5a5a5a" stroke-width="0.7"/>
<line x1="594.5" y1="145.8" x2="650.9" y2="138.5" stroke="#5a5a5a" stroke-width="0.7"/>
<line x1="594.5" y1="146.5" x2="650.9" y2="127.7" stroke="#5a5a5a" stroke-width="0.7"/>
<line x1="594.5" y1="154" x2="650.9" y2="110.3" stroke="#5a5a5a" stroke-width="0.7"/>
<line x1="594.5" y1="180" x2="650.9" y2="65.7" stroke="#5a5a5a" stroke-width="0.7"/>
<line x1="594.5" y1="183" x2="650.9" y2="105.8" stroke="#5a5a5a" stroke-width="0.7"/>
<line x1="594.5" y1="189" x2="650.9" y2="41" stroke="#5a5a5a" stroke-width="0.7"/>
<line x1="594.5" y1="203.1" x2="650.9" y2="176.4" stroke="#5a5a5a" stroke-width="0.7"/>
<line x1="594.5" y1="208.5" x2="650.9" y2="178.5" stroke="#5a5a5a" stroke-width="0.7"/>
<line x1="594.5" y1="210.8" x2="650.9" y2="190.3" stroke="#5a5a5a" stroke-width="0.7"/>
<line x1="594.5" y1="218.9" x2="650.9" y2="166.4" stroke="#5a5a5a" stroke-width="0.7"/>
<line x1="594.5" y1="224.6" x2="650.9" y2="214.5" stroke="#5a5a5a" stroke-width="0.7"/>
<line x1="594.5" y1="246.7" x2="650.9" y2="204.1" stroke="#5a5a5a" stroke-width="0.7"/>
<text x="572.2" y="86.5" font-size="10.5" text-anchor="middle" fill="#000">#4</text>
<text x="572.2" y="101.2" font-size="10.5" text-anchor="middle" fill="#000">#6</text>
<text x="572.2" y="115.0" font-size="10.5" text-anchor="middle" fill="#000">#13</text>
<text x="572.2" y="128.4" font-size="10.5" text-anchor="middle" fill="#000">#7</text>
<text x="572.2" y="142.2" font-size="10.5" text-anchor="middle" fill="#000">#11</text>
<text x="572.2" y="155.8" font-size="10.5" text-anchor="middle" fill="#000">#12</text>
<text x="572.2" y="170.5" font-size="10.5" text-anchor="middle" fill="#000">#5</text>
<text x="572.2" y="184.3" font-size="10.5" text-anchor="middle" fill="#000">#9</text>
<text x="572.2" y="198.1" font-size="10.5" text-anchor="middle" fill="#000">#2</text>
<text x="572.2" y="211.5" font-size="10.5" text-anchor="middle" fill="#000">#1</text>
<text x="572.2" y="224.9" font-size="10.5" text-anchor="middle" fill="#000">#3</text>
<text x="572.2" y="238.7" font-size="10.5" text-anchor="middle" fill="#000">#15</text>
<text x="572.2" y="252.5" font-size="10.5" text-anchor="middle" fill="#000">#8</text>
<text x="572.2" y="267.2" font-size="10.5" text-anchor="middle" fill="#000">#10</text>
<line x1="594.5" y1="176" x2="594.5" y2="197" stroke="#000" stroke-width="1.6"/>
<line x1="590.2" y1="176" x2="598.8" y2="176" stroke="#000" stroke-width="1.6"/>
<line x1="590.2" y1="197" x2="598.8" y2="197" stroke="#000" stroke-width="1.6"/>
<rect x="590.7" y="182.2" width="7.6" height="7.6" fill="#000"/>
<line x1="650.9" y1="119.6" x2="650.9" y2="149.2" stroke="#000" stroke-width="1.6"/>
<line x1="646.6" y1="119.6" x2="655.1999999999999" y2="119.6" stroke="#000" stroke-width="1.6"/>
<line x1="646.6" y1="149.2" x2="655.1999999999999" y2="149.2" stroke="#000" stroke-width="1.6"/>
<rect x="647.1" y="130.89999999999998" width="7.6" height="7.6" fill="#000"/>
<circle cx="594.5" cy="112" r="2.75" fill="#000" fill-opacity="0.8"/>
<circle cx="594.5" cy="133.2" r="2.75" fill="#000" fill-opacity="0.8"/>
<circle cx="594.5" cy="145.8" r="2.75" fill="#000" fill-opacity="0.8"/>
<circle cx="594.5" cy="146.5" r="2.75" fill="#000" fill-opacity="0.8"/>
<circle cx="594.5" cy="154" r="2.75" fill="#000" fill-opacity="0.8"/>
<circle cx="594.5" cy="180" r="2.75" fill="#000" fill-opacity="0.8"/>
<circle cx="594.5" cy="183" r="2.75" fill="#000" fill-opacity="0.8"/>
<circle cx="594.5" cy="189" r="2.75" fill="#000" fill-opacity="0.8"/>
<circle cx="594.5" cy="203.1" r="2.75" fill="#000" fill-opacity="0.8"/>
<circle cx="594.5" cy="208.5" r="2.75" fill="#000" fill-opacity="0.8"/>
<circle cx="594.5" cy="210.8" r="2.75" fill="#000" fill-opacity="0.8"/>
<circle cx="594.5" cy="218.9" r="2.75" fill="#000" fill-opacity="0.8"/>
<circle cx="594.5" cy="224.6" r="2.75" fill="#000" fill-opacity="0.8"/>
<circle cx="594.5" cy="246.7" r="2.75" fill="#000" fill-opacity="0.8"/>
<circle cx="650.9" cy="71.6" r="2.75" fill="#b4b4b4" fill-opacity="0.55"/>
<circle cx="650.9" cy="98.4" r="2.75" fill="#0000ff" fill-opacity="0.8"/>
<circle cx="650.9" cy="138.5" r="2.75" fill="#0000ff" fill-opacity="0.8"/>
<circle cx="650.9" cy="127.7" r="2.75" fill="#0000ff" fill-opacity="0.8"/>
<circle cx="650.9" cy="110.3" r="2.75" fill="#0000ff" fill-opacity="0.8"/>
<circle cx="650.9" cy="65.7" r="2.75" fill="#0000ff" fill-opacity="0.8"/>
<circle cx="650.9" cy="105.8" r="2.75" fill="#0000ff" fill-opacity="0.8"/>
<circle cx="650.9" cy="41" r="2.75" fill="#0000ff" fill-opacity="0.8"/>
<circle cx="650.9" cy="176.4" r="2.75" fill="#0000ff" fill-opacity="0.8"/>
<circle cx="650.9" cy="214.5" r="2.75" fill="#0000ff" fill-opacity="0.8"/>
<circle cx="650.9" cy="204.1" r="2.75" fill="#0000ff" fill-opacity="0.8"/>
<circle cx="650.9" cy="178.5" r="2.75" fill="#ff0000" fill-opacity="0.8"/>
<circle cx="650.9" cy="190.3" r="2.75" fill="#ff0000" fill-opacity="0.8"/>
<circle cx="650.9" cy="166.4" r="2.75" fill="#ff0000" fill-opacity="0.8"/>
<rect x="579.55" y="30.2" width="2.5" height="1.8000000000000007" fill="#555"/>
<text x="566.5" y="37" font-size="17.5" fill="#000">d</text>
<line x1="560.5" y1="19.0" x2="560.5" y2="269.95" stroke="#333" stroke-width="1"/>
<line x1="560.0" y1="269.45" x2="685.5" y2="269.45" stroke="#333" stroke-width="1"/>
<line x1="594.5" y1="269.45" x2="594.5" y2="272.05" stroke="#333" stroke-width="1"/>
<line x1="650.9" y1="269.45" x2="650.9" y2="272.05" stroke="#333" stroke-width="1"/>
<text x="679.4" y="263.2" font-size="12.3" text-anchor="end" fill="#1a1a1a">p = 0.0011</text>
<text transform="translate(600.3,283.1) rotate(-30)" font-size="14.5" text-anchor="end" fill="#4d4d4d">Unaffected</text>
<text transform="translate(656.7,283.1) rotate(-30)" font-size="14.5" text-anchor="end" fill="#4d4d4d">Growth Anomaly</text>
</svg></body></html>
